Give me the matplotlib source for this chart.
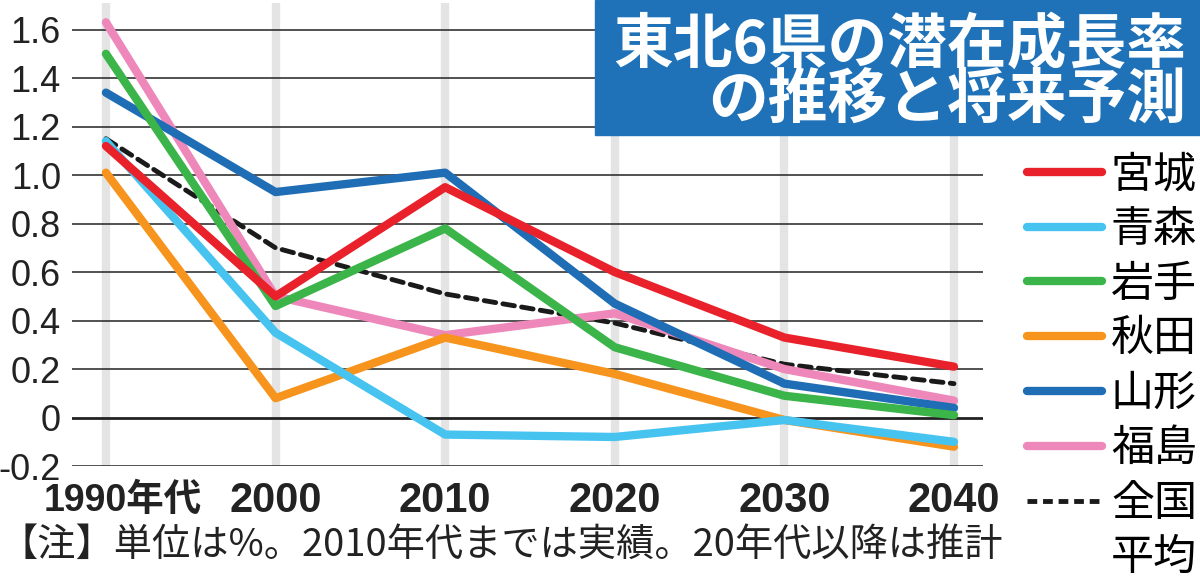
import numpy as np
import matplotlib
matplotlib.use("Agg")
import matplotlib.pyplot as plt
from matplotlib.lines import Line2D
from matplotlib.patches import Rectangle

# data (%)
years = ["1990年代", "2000", "2010", "2020", "2030", "2040"]
miyagi = [1.12, 0.50, 0.95, 0.60, 0.33, 0.21]
aomori = [1.14, 0.35, -0.07, -0.08, -0.01, -0.10]
iwate = [1.50, 0.46, 0.78, 0.29, 0.09, 0.01]
akita = [1.01, 0.08, 0.33, 0.18, -0.01, -0.12]
yamagata = [1.34, 0.93, 1.01, 0.47, 0.14, 0.04]
fukushima = [1.63, 0.50, 0.34, 0.43, 0.20, 0.07]
national = [1.15, 0.70, 0.51, 0.39, 0.22, 0.14]

names = ["宮城", "青森", "岩手", "秋田", "山形", "福島"]
series = [miyagi, aomori, iwate, akita, yamagata, fukushima]
colors = ["#e8212b", "#47c3f0", "#3bb44a", "#f7941d", "#1f6db4", "#ee88ba"]

yticks = [-0.2, 0, 0.2, 0.4, 0.6, 0.8, 1.0, 1.2, 1.4, 1.6]
ylabels = ["-0.2", "0", "0.2", "0.4", "0.6", "0.8", "1.0", "1.2", "1.4", "1.6"]

latin = ["Liberation Sans", "Noto Sans CJK JP"]
cjk = ["Noto Sans CJK JP", "DejaVu Sans"]

fig = plt.figure(figsize=(12, 5.79), dpi=100)
ax = fig.add_axes([0.06, 0.195, 0.759, 0.80])

x = np.arange(len(years))

# grey column bands
for xi in x:
    ax.axvline(xi, color="#e4e4e4", lw=6, zorder=0.5)

# horizontal grid
for yt in yticks:
    ax.axhline(yt, color="#222222", lw=2.0 if yt == 0 else 1.1, zorder=0.8)

for i in range(len(series) - 1, -1, -1):
    ax.plot(x, series[i], color=colors[i], lw=6, solid_capstyle="round",
            solid_joinstyle="round", zorder=2 + (len(series) - i) * 0.1)
ax.plot(x, national, color="#1a1a1a", lw=3.5, ls=(0, (2.4, 1.5)),
        dash_capstyle="round", zorder=2.05)

ax.set_xlim(-0.2, 5.17)
ax.set_ylim(-0.2, 1.71)
ax.set_yticks(yticks)
ax.set_yticklabels(ylabels, family=latin, fontsize=26, color="#222222")
ax.set_xticks([])
ax.tick_params(axis="y", length=0, pad=8)
for s in ax.spines.values():
    s.set_visible(False)

# x labels
for xi, lab in zip(x, years):
    off = 0.1 if xi == 0 else 0
    ax.text(xi + off, -0.075, lab, transform=ax.get_xaxis_transform(),
            ha="center", va="center", family=latin, fontsize=30 if xi else 27,
            fontweight="bold", color="#222222")

# title box
fig.patches.append(Rectangle((595 / 1200, 1 - 135 / 579), 605 / 1200, 135 / 579,
                             transform=fig.transFigure, color="#1f72b8", zorder=1))
fig.text(1186 / 1200, 1 - 46 / 579, "東北6県の潜在成長率", ha="right", va="center",
         family=cjk, fontsize=43, fontweight="bold", color="white")
fig.text(1186 / 1200, 1 - 101 / 579, "の推移と将来予測", ha="right", va="center",
         family=cjk, fontsize=43, fontweight="bold", color="white")

# legend
handles = [Line2D([], [], color=c, lw=6, solid_capstyle="round") for c in colors]
handles.append(Line2D([], [], color="#1a1a1a", lw=3.5, ls=(0, (2, 1.2))))
handles.append(Line2D([], [], color="none"))
labels = names + ["全国", "平均"]
fig.legend(handles, labels, loc="upper left",
           bbox_to_anchor=(1027 / 1200, 1 - 153 / 579),
           frameon=False, prop={"family": cjk, "size": 31},
           handlelength=1.75, handletextpad=0.2, labelspacing=0.25,
           borderpad=0, borderaxespad=0)

fig.text(0.0, 1 - 545 / 579, "【注】単位は%。2010年代までは実績。20年代以降は推計",
         ha="left", va="center", family=cjk, fontsize=27.5, color="#222222")

fig.savefig("out.png", dpi=100)
